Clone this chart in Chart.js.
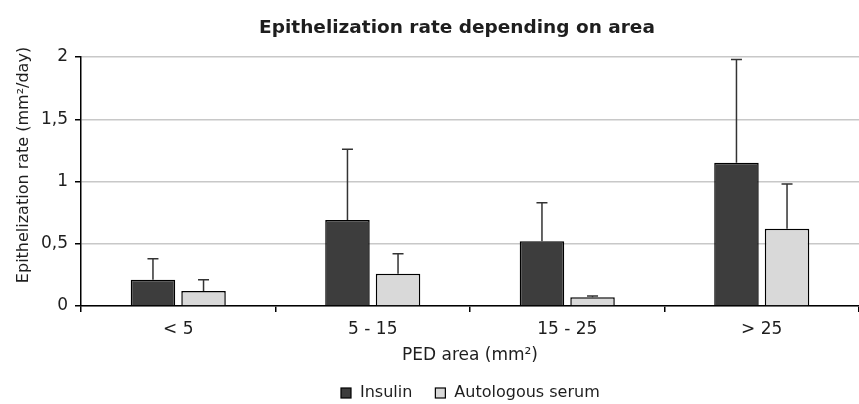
<!DOCTYPE html>
<html><head><meta charset="utf-8">
<script src="https://cdn.jsdelivr.net/npm/chart.js@4/dist/chart.umd.min.js"></script>
<style>html,body{margin:0;padding:0;background:#fff}#w{width:859px;height:404px}</style>
</head><body><div id="w"><canvas id="c"></canvas></div>
<script>
const categories = ["< 5", "5 - 15", "15 - 25", "> 25"];
const insulin = [0.21, 0.69, 0.52, 1.15];
const insulinErr = [0.17, 0.57, 0.31, 0.83];
const serum = [0.12, 0.26, 0.07, 0.62];
const serumErr = [0.09, 0.16, 0.01, 0.36];
const yTicks = [0, 0.5, 1, 1.5, 2];
const chartTitle = 'Epithelization rate depending on area';
const yTitle = 'Epithelization rate (mm²/day)';
const xTitle = 'PED area (mm²)';

const F = "'DejaVu Sans', 'Liberation Sans', sans-serif";
const TXT = '#1e1e1e';

const errPlugin = {
  id: 'err',
  afterDatasetsDraw(chart) {
    const ctx = chart.ctx, y = chart.scales.y;
    chart.data.datasets.forEach((ds, i) => {
      const meta = chart.getDatasetMeta(i);
      meta.data.forEach((bar, j) => {
        const v = ds.data[j], e = ds.errors[j];
        const yt = y.getPixelForValue(v + e), yb = y.getPixelForValue(v);
        ctx.save();
        ctx.strokeStyle = '#333';
        ctx.lineWidth = 1.5;
        ctx.beginPath();
        ctx.moveTo(bar.x, yb); ctx.lineTo(bar.x, yt);
        ctx.moveTo(bar.x - 5.5, yt); ctx.lineTo(bar.x + 5.5, yt);
        ctx.stroke();
        ctx.restore();
      });
    });
  }
};

const textPlugin = {
  id: 'texts',
  afterDraw(chart) {
    const ctx = chart.ctx, ca = chart.chartArea;
    ctx.save();
    ctx.fillStyle = TXT;
    // title
    ctx.font = "bold 18.5px " + F;
    ctx.textAlign = 'center'; ctx.textBaseline = 'middle';
    ctx.fillText(chartTitle, 457, 28);
    // y title
    ctx.save();
    ctx.translate(24, 165);
    ctx.rotate(-Math.PI / 2);
    ctx.font = "16px " + F;
    ctx.fillText(yTitle, 0, 0);
    ctx.restore();
    // legend
    ctx.font = "16px " + F;
    ctx.textAlign = 'left';
    let x = 341; const yc = 393;
    chart.data.datasets.forEach(ds => {
      ctx.fillStyle = ds.backgroundColor;
      ctx.fillRect(x, yc - 5, 10, 10);
      ctx.strokeStyle = '#000'; ctx.lineWidth = 1.2;
      ctx.strokeRect(x, yc - 5, 10, 10);
      ctx.fillStyle = TXT;
      ctx.fillText(ds.label, x + 19, yc);
      x += 19 + ctx.measureText(ds.label).width + 23;
    });
    ctx.restore();
  }
};

new Chart(document.getElementById('c'), {
  type: 'bar',
  data: {
    labels: categories,
    datasets: [
      {label: 'Insulin', data: insulin, errors: insulinErr, backgroundColor: '#3d3d3d', borderColor: '#000', borderWidth: 1.5, categoryPercentage: 0.52, barPercentage: 0.88},
      {label: 'Autologous serum', data: serum, errors: serumErr, backgroundColor: '#d9d9d9', borderColor: '#000', borderWidth: 1.5, categoryPercentage: 0.52, barPercentage: 0.88}
    ]
  },
  options: {
    responsive: true, maintainAspectRatio: false, animation: false,
    layout: {padding: {left: 0, right: 0, top: 57, bottom: 38}},
    plugins: {
      title: {display: false},
      legend: {display: false},
      tooltip: {enabled: false}
    },
    scales: {
      x: {
        offset: true,
        afterFit(s) { s.height = 60; },
        grid: {display: true, offset: true, drawOnChartArea: false, color: '#000', tickLength: 6, lineWidth: 1.5},
        border: {color: '#000', width: 1.5},
        ticks: {color: TXT, font: {family: F, size: 17}, padding: 7},
        title: {display: true, text: xTitle, color: TXT, font: {family: F, size: 17}, padding: {top: 0, bottom: 0}}
      },
      y: {
        min: 0, max: 2,
        afterFit(s) { s.width = 81; },
        afterBuildTicks(s) { s.ticks = yTicks.map(v => ({value: v})); },
        grid: {color: '#c8c8c8', lineWidth: 1.5, tickColor: '#000', tickLength: 6},
        border: {color: '#000', width: 1.5},
        ticks: {color: TXT, font: {family: F, size: 17}, padding: 7, callback: v => String(v).replace('.', ',')},
        title: {display: false}
      }
    }
  },
  plugins: [errPlugin, textPlugin]
});
</script></body></html>
